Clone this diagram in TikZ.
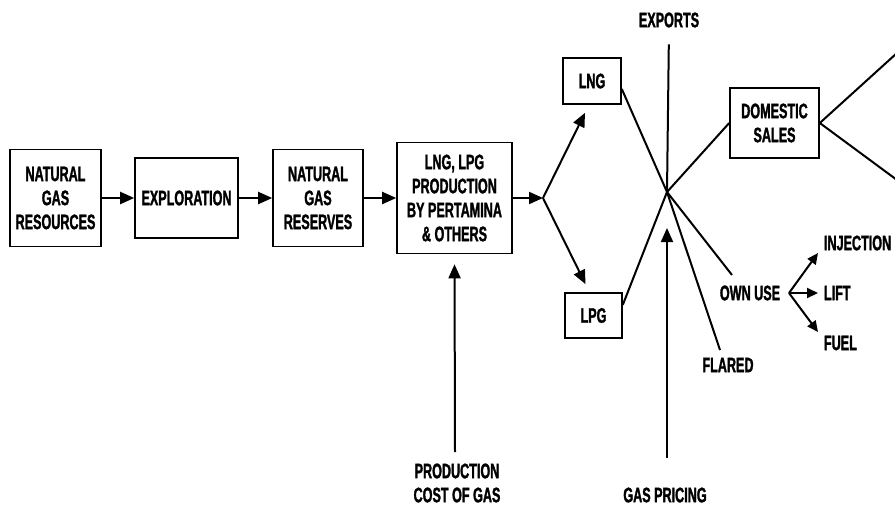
\documentclass[tikz,border=0pt]{standalone}
\usepackage{fontspec}
\setmainfont{Liberation Sans}[FakeStretch=0.6, BoldFeatures={FakeBold=1.4}]
\usetikzlibrary{positioning, calc, arrows.meta}

\begin{document}
\begin{tikzpicture}[x=1pt, y=-1pt, line width=2pt,
  every node/.style={font=\fontsize{21}{24}\selectfont\bfseries, align=center, inner sep=0pt},
  box/.style={draw, line width=1.6pt},
  arr/.style={-{Triangle[length=14pt, width=12pt]}},
  arrs/.style={-{Triangle[length=11pt, width=10pt]}}]
  \useasboundingbox (0,0) rectangle (895,507);
  % boxes
  \node[box, minimum width=91pt, minimum height=97pt] (res) at (55.5,198) {NATURAL\\GAS\\RESOURCES};
  \node[box, minimum width=103pt, minimum height=80pt] (expl) at (186.5,198) {EXPLORATION};
  \node[box, minimum width=90pt, minimum height=97pt] (resv) at (318,198) {NATURAL\\GAS\\RESERVES};
  \node[box, minimum width=115pt, minimum height=111pt] (prod) at (454.5,198) {LNG, LPG\\PRODUCTION\\BY PERTAMINA\\\& OTHERS};
  \node[box, minimum width=58pt, minimum height=46pt] (lng) at (592,81) {LNG};
  \node[box, minimum width=57pt, minimum height=45pt] (lpg) at (593.5,315.5) {LPG};
  \node[box, minimum width=89pt, minimum height=70pt] (dom) at (774.5,123) {DOMESTIC\\SALES};
  % labels
  \node (exp) at (669,20) {EXPORTS};
  \node (own) at (750,293) {OWN USE};
  \node (flared) at (728,365) {FLARED};
  \node[anchor=west] (inj) at (823,243) {INJECTION};
  \node[anchor=west] (lift) at (823,293) {LIFT};
  \node[anchor=west] (fuel) at (823,343) {FUEL};
  \node (cost) at (457,483) {PRODUCTION\\COST OF GAS};
  \node (pricing) at (665,495) {GAS PRICING};
  % points
  \coordinate (split) at (543,198);
  \coordinate (cross) at (667,192);
  \coordinate (flend) at (720,350);
  \coordinate (ownend) at (732,275);
  \coordinate (fork) at (789,293);
  \coordinate (injtip) at (818,253);
  \coordinate (lifttip) at (818,293);
  \coordinate (fueltip) at (818,332);
  \coordinate (domup) at (897,53);
  \coordinate (domdn) at (897,180);
  \coordinate (pricebot) at (667,458);
  \coordinate (pricetip) at (667,228);
  \coordinate (costbot) at (455,452);
  % flow
  \draw[arr] (res) -- (expl);
  \draw[arr] (expl) -- (resv);
  \draw[arr] (resv) -- (prod);
  \draw[arr] (prod) -- (split);
  \draw[arr] (split) -- ([xshift=-7pt, yshift=-8pt]lng.south);
  \draw[arr] (split) -- ([xshift=-8pt, yshift=8pt]lpg.north);
  \draw (lng.-15) -- (cross);
  \draw (lpg.20) -- (cross);
  \draw[shorten >=16pt] (cross) -- (exp.south);
  \draw (cross) -- (dom.west);
  \draw (cross) -- (flend);
  \draw (cross) -- (ownend);
  \draw (dom.east) -- (domup);
  \draw (dom.east) -- (domdn);
  \draw[arrs] (fork) -- (injtip);
  \draw[arrs] (fork) -- (lifttip);
  \draw[arrs] (fork) -- (fueltip);
  \draw[arr] (pricebot) -- (pricetip);
  \draw[arr, shorten >=10pt] (costbot) -- (prod.south);
\end{tikzpicture}
\end{document}
